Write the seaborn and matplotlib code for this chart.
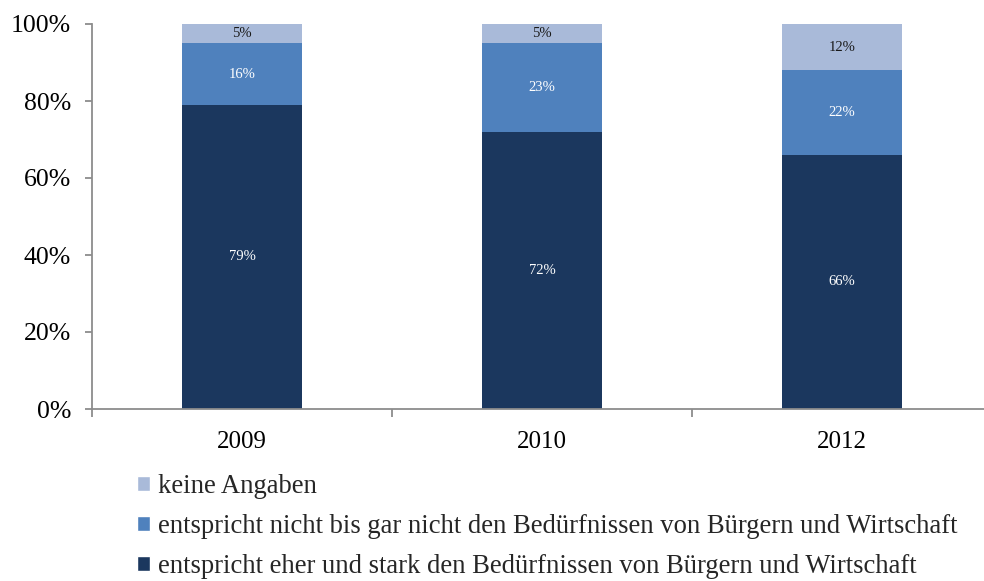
import matplotlib
matplotlib.use("Agg")
import matplotlib.pyplot as plt
import seaborn as sns
import pandas as pd
from matplotlib.patches import Patch

years = ["2009", "2010", "2012"]
stark = [79, 72, 66]
nicht = [16, 23, 22]
keine = [5, 5, 12]
series_names = [
    "keine Angaben",
    "entspricht nicht bis gar nicht den Bedürfnissen von Bürgern und Wirtschaft",
    "entspricht eher und stark den Bedürfnissen von Bürgern und Wirtschaft",
]
yticks = [0, 20, 40, 60, 80, 100]
ytick_labels = ["0%", "20%", "40%", "60%", "80%", "100%"]

c_dark = "#1B375E"
c_mid = "#4F81BD"
c_light = "#A9BAD9"

sns.set_theme(style="white")
plt.rcParams["font.family"] = ["Liberation Serif", "DejaVu Serif"]

df = pd.DataFrame({"year": years, "stark": stark, "nicht": nicht, "keine": keine})
df["c2"] = df["stark"] + df["nicht"]
df["c3"] = df["c2"] + df["keine"]

fig = plt.figure(figsize=(9.84, 5.81), dpi=100)
ax = fig.add_axes([92 / 984, 1 - 409 / 581, (992 - 92) / 984, (409 - 24) / 581])

sns.barplot(data=df, x="year", y="c3", color=c_light, width=0.4, ax=ax, saturation=1, linewidth=0)
sns.barplot(data=df, x="year", y="c2", color=c_mid, width=0.4, ax=ax, saturation=1, linewidth=0)
sns.barplot(data=df, x="year", y="stark", color=c_dark, width=0.4, ax=ax, saturation=1, linewidth=0)

for i in range(len(years)):
    ax.text(i, stark[i] / 2, f"{stark[i]}%", ha="center", va="center", color="white", fontsize=10.5)
    ax.text(i, stark[i] + nicht[i] / 2, f"{nicht[i]}%", ha="center", va="center", color="white", fontsize=10.5)
    ax.text(i, stark[i] + nicht[i] + keine[i] / 2, f"{keine[i]}%", ha="center", va="center", color="#1a1a1a", fontsize=10.5)

ax.set_xlim(-0.5, 2.5)
ax.set_ylim(0, 100)
ax.set_xlabel("")
ax.set_ylabel("")
ax.set_yticks(yticks)
ax.set_yticklabels(ytick_labels)
ax.set_xticks(range(len(years)))
ax.set_xticklabels(years)
ax.set_xticks([-0.5, 0.5, 1.5, 2.5], minor=True)

gray = "#8C8C8C"
for s in ["top", "right"]:
    ax.spines[s].set_visible(False)
for s in ["left", "bottom"]:
    ax.spines[s].set_color(gray)
    ax.spines[s].set_linewidth(1.3)

ax.tick_params(axis="y", which="major", direction="out", length=5, width=1.3, color=gray,
               left=True, labelsize=18.5, pad=10, labelcolor="black")
ax.tick_params(axis="x", which="major", length=0, labelsize=18, pad=16, labelcolor="black")
ax.tick_params(axis="x", which="minor", direction="out", length=6, width=1.3, color=gray, bottom=True)
ax.grid(False)

handles = [Patch(facecolor=c_light), Patch(facecolor=c_mid), Patch(facecolor=c_dark)]
fig.legend(handles, series_names, loc="upper left", bbox_to_anchor=(137 / 984, 1 - 474 / 581),
           frameon=False, fontsize=19.2, handlelength=0.48, handleheight=0.48, handletextpad=0.3,
           labelspacing=0.56, borderaxespad=0, borderpad=0)

fig.savefig("out.png", dpi=100)
